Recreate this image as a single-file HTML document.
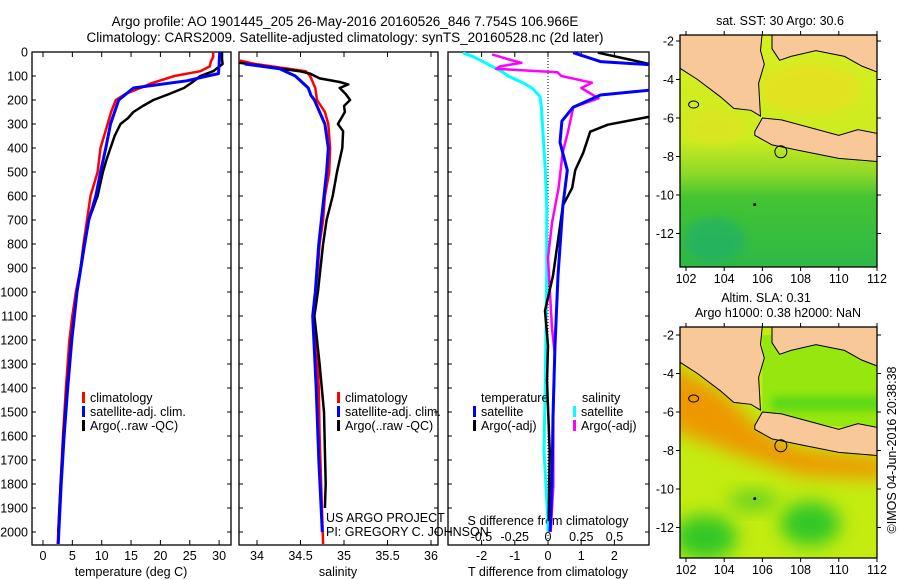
<!DOCTYPE html>
<html><head><meta charset="utf-8"><style>
body{margin:0;background:#fff;}
svg{display:block;font-family:"Liberation Sans",sans-serif;}
text{fill:#000;}
</style></head><body>
<svg id="c" width="900" height="580" viewBox="0 0 900 580">
<defs>
<clipPath id="cp1"><rect x="32" y="52" width="199" height="493"/></clipPath>
<clipPath id="cp2"><rect x="239" y="52" width="199" height="493"/></clipPath>
<clipPath id="cp3"><rect x="448" y="52" width="201" height="493"/></clipPath>
<clipPath id="cm1"><rect x="680" y="35" width="197" height="232"/></clipPath>
<clipPath id="cm2"><rect x="680" y="327" width="197" height="231"/></clipPath>
<filter id="bl" x="-50%" y="-50%" width="200%" height="200%"><feGaussianBlur stdDeviation="9"/></filter>
<filter id="bl2" x="-50%" y="-50%" width="200%" height="200%"><feGaussianBlur stdDeviation="4"/></filter>
<linearGradient id="sstg" x1="0" y1="0" x2="0" y2="1">
<stop offset="0" stop-color="#d6ee22"/><stop offset="0.45" stop-color="#cdec20"/><stop offset="0.6" stop-color="#8cd828"/><stop offset="0.7" stop-color="#44c432"/><stop offset="1" stop-color="#2eb848"/></linearGradient>
</defs>
<text x="345" y="26" font-size="13.5" text-anchor="middle">Argo profile: AO 1901445_205 26-May-2016 20160526_846 7.754S 106.966E</text>
<text x="345" y="42" font-size="13.5" text-anchor="middle">Climatology: CARS2009. Satellite-adjusted climatology: synTS_20160528.nc (2d later)</text>
<g id="g"></g>
</svg>
<script>
// ---- data ----
const depthTicks=[0,100,200,300,400,500,600,700,800,900,1000,1100,1200,1300,1400,1500,1600,1700,1800,1900,2000];
const tempTicks=[0,5,10,15,20,25,30];
const salTicks=[34,34.5,35,35.5,36];
const salTickLabels=["34","34.5","35","35.5","36"];
const dTTicks=[-2,-1,0,1,2];
const dSTicks=[-0.5,-0.25,0,0.25,0.5];
const dSTickLabels=["-0.5","-0.25","0","0.25","0.5"];
const tempClimDepth=[0,20,40,60,80,100,130,150,175,200,250,300,400,500,600,700,800,900,1000,1100,1200,1400,1600,1800,2000,2050];
const tempClim=[29.0,29.0,28.6,28.4,26.8,22.4,18.5,16.6,14.0,12.4,11.6,11.0,9.8,9.3,8.1,7.5,6.9,6.4,5.6,5.0,4.5,3.9,3.4,3.0,2.6,2.5];
const tempSatDepth=[0,50,90,100,120,150,200,300,400,500,600,700,800,1000,1200,1400,1600,1800,2000,2050];
const tempSat=[30.1,30.0,29.9,28.0,24.5,15.4,12.9,11.5,10.7,9.8,9.0,7.8,7.1,5.8,4.9,4.2,3.6,3.1,2.7,2.6];
const tempArgoDepth=[0,30,50,80,100,125,150,175,200,225,250,275,300,350,400,450,500,600,700,800,1000,1200,1400,1600,1800,2000];
const tempArgo=[30.5,30.5,30.6,29.0,26.8,25.5,24.0,21.5,18.8,17.0,15.4,14.5,13.2,12.2,11.5,10.8,10.2,9.3,7.8,7.0,5.8,4.8,4.1,3.5,3.0,2.6];
const salClimDepth=[35,50,80,100,150,200,250,300,400,500,600,700,800,900,1000,1100,1200,1400,1600,2050];
const salClim=[33.79,33.98,34.56,34.61,34.67,34.69,34.78,34.82,34.84,34.83,34.78,34.76,34.72,34.70,34.67,34.64,34.68,34.71,34.72,34.76];
const salSatDepth=[50,70,100,150,180,200,250,300,400,500,600,700,800,1000,1100,1400,1700,2000];
const salSat=[33.86,34.26,34.44,34.59,34.62,34.66,34.72,34.78,34.82,34.80,34.77,34.74,34.71,34.67,34.64,34.68,34.71,34.75];
const salArgoDepth=[45,80,90,110,125,135,150,175,200,225,250,300,330,400,500,600,700,800,1000,1100,1300,1500,1800,1900];
const salArgo=[33.80,34.49,34.61,34.72,34.95,35.05,34.95,35.02,35.07,35.0,35.01,34.93,34.99,34.98,34.92,34.87,34.80,34.76,34.70,34.66,34.72,34.77,34.79,34.78];
const dSSatDepth=[3,20,40,60,84,100,128,150,186,230,493,639,932,1370,1663,1955,1999];
const dSSat=[-0.64,-0.56,-0.49,-0.42,-0.34,-0.30,-0.19,-0.12,-0.06,-0.05,-0.02,-0.01,-0.01,-0.02,-0.03,0,0];
const dSArgoDepth=[10,30,45,60,70,84,100,128,150,193,230,332,420,566,712,858,1151,1253,1516,1809,1999];
const dSArgo=[-0.42,-0.30,-0.20,-0.36,-0.39,0.07,0.10,0.33,0.25,0.38,0.19,0.15,0.11,0.08,0.03,0,0.03,0.05,0.04,0.04,0.02];
const dTSatDepth=[3,40,54,157,179,230,288,376,493,639,932,1224,1516,1809,1999];
const dTSat=[0.76,1.58,3.2,3.2,1.58,0.76,0.42,0.36,0.58,0.45,0.30,0.21,0.15,0.12,0.06];
const dTArgoDepth=[3,33,54,266,303,332,420,493,566,639,785,932,1078,1224,1370,1663,1955];
const dTArgo=[1.5,2.5,3.2,3.2,1.8,1.27,1.06,0.82,0.73,0.45,0.30,0.15,-0.09,0,-0.03,0.05,0.02];
const lonTicks=[102,104,106,108,110,112];
const latTicks=[-2,-4,-6,-8,-10,-12];
const argoLon=106.966, argoLat=-7.754;

// ---- scales ----
const yD=d=>52+d*0.24;
const xT=t=>43+t*5.87;
const xS=s=>257+(s-34)*87;
const xDT=t=>548+t*33.2;
const xDS=s=>548+s*133;
const NS='http://www.w3.org/2000/svg';
const G=document.getElementById('g');
function mk(tag,attrs,parent){const e=document.createElementNS(NS,tag);for(const k in attrs)e.setAttribute(k,attrs[k]);(parent||G).appendChild(e);return e;}
function txt(x,y,s,size,anchor,parent){const e=mk('text',{x:x,y:y,'font-size':size,'text-anchor':anchor||'start'},parent);e.textContent=s;return e;}
function line(xs,ys,color,w,clip,name){
  const p=xs.map((v,i)=>v.toFixed(1)+','+ys[i].toFixed(1)).join(' ');
  const e=mk('polyline',{points:p,fill:'none',stroke:color,'stroke-width':w,'clip-path':'url(#'+clip+')','stroke-linejoin':'round'});
  
  
}
function frame(x,w,name){const e=mk('rect',{x:x,y:52,width:w,height:493,fill:'none',stroke:'#000','stroke-width':1.3});
  
  }

frame(32,199,'temperature-panel');frame(239,199,'salinity-panel');frame(448,201,'difference-panel');
depthTicks.forEach(d=>{const y=yD(d);
  txt(28,y+4.5,String(d),12.5,'end');
  [[32,36],[227,231],[239,243],[434,438],[448,452],[645,649]].forEach(a=>mk('line',{x1:a[0],x2:a[1],y1:y,y2:y,stroke:'#000'}));
});
tempTicks.forEach(t=>{const x=xT(t);mk('line',{x1:x,x2:x,y1:52,y2:57,stroke:'#000'});mk('line',{x1:x,x2:x,y1:540,y2:545,stroke:'#000'});
  txt(x,560,String(t),12.5,'middle');});
salTicks.forEach((s,i)=>{const x=xS(s);mk('line',{x1:x,x2:x,y1:52,y2:57,stroke:'#000'});mk('line',{x1:x,x2:x,y1:540,y2:545,stroke:'#000'});
  txt(x,560,salTickLabels[i],12.5,'middle');});
dTTicks.forEach(t=>{const x=xDT(t);mk('line',{x1:x,x2:x,y1:52,y2:57,stroke:'#000'});mk('line',{x1:x,x2:x,y1:540,y2:545,stroke:'#000'});
  txt(x,560,String(t),12.5,'middle');});
dSTicks.forEach((s,i)=>{txt(xDS(s),541,dSTickLabels[i],12.5,'middle');});
mk('line',{x1:xDT(0),x2:xDT(0),y1:52,y2:545,stroke:'#000','stroke-dasharray':'1,2'});
txt(131,576,'temperature (deg C)',12.5,'middle');
txt(338,576,'salinity',12.5,'middle');
txt(548,576,'T difference from climatology',12.5,'middle');
txt(548,525,'S difference from climatology',12.5,'middle');

line(tempClim.map(xT),tempClimDepth.map(yD),'#f00',2.5,'cp1','temp-climatology-line');
line(tempArgo.map(xT),tempArgoDepth.map(yD),'#000',2.5,'cp1','temp-argo-line');
line(tempSat.map(xT),tempSatDepth.map(yD),'#00f',3,'cp1','temp-satellite-line');
line(salClim.map(xS),salClimDepth.map(yD),'#f00',2.5,'cp2','sal-climatology-line');
line(salArgo.map(xS),salArgoDepth.map(yD),'#000',2.5,'cp2','sal-argo-line');
line(salSat.map(xS),salSatDepth.map(yD),'#00f',3,'cp2','sal-satellite-line');
line(dSSat.map(xDS),dSSatDepth.map(yD),'#0ff',3,'cp3','dS-satellite-line');
line(dSArgo.map(xDS),dSArgoDepth.map(yD),'#f0f',2.5,'cp3','dS-argo-line');
line(dTArgo.map(xDT),dTArgoDepth.map(yD),'#000',2.5,'cp3','dT-argo-line');
line(dTSat.map(xDT),dTSatDepth.map(yD),'#00f',3,'cp3','dT-satellite-line');

txt(326,522,'US ARGO PROJECT',12.5);
txt(326,536,'PI: GREGORY C. JOHNSON',12.5);

function leg(x,y,color,label){const g=mk('g',{});
  mk('rect',{x:x,y:y-10,width:3,height:11,fill:color},g);txt(x+8,y,label,12.5,'start',g);}
leg(82,402,'#f00','climatology');leg(82,416,'#00f','satellite-adj. clim.');leg(82,430,'#000','Argo(..raw -QC)');
leg(337,402,'#f00','climatology');leg(337,416,'#00f','satellite-adj. clim.');leg(337,430,'#000','Argo(..raw -QC)');
txt(481,402,'temperature',12.5);txt(582,402,'salinity',12.5);
leg(473,416,'#00f','satellite');leg(473,430,'#000','Argo(-adj)');
leg(573,416,'#0ff','satellite');leg(573,430,'#f0f','Argo(-adj)');

// ---- maps ----
function mapPanel(top,bottom,lat2y,clip,isSST){
  const X=lon=>686+(lon-102)*19.1;
  const Y=lat=>lat2y+(-2-lat)*19.25;
  const g=mk('g',{'clip-path':'url(#'+clip+')'});
  
  const P=pts=>pts.map(p=>X(p[0]).toFixed(1)+','+Y(p[1]).toFixed(1)).join(' ');
  if(isSST){
    mk('rect',{x:680,y:top,width:197,height:bottom-top,fill:'url(#sstg)'},g);
    mk('ellipse',{cx:X(108.5),cy:Y(-4.5),rx:50,ry:25,fill:'#eedc20',opacity:0.6,filter:'url(#bl2)'},g);
    mk('ellipse',{cx:X(103.5),cy:Y(-6.5),rx:30,ry:18,fill:'#e4e020',opacity:0.5,filter:'url(#bl2)'},g);
    mk('ellipse',{cx:X(103.5),cy:Y(-12.3),rx:30,ry:22,fill:'#1fae70',opacity:0.6,filter:'url(#bl2)'},g);
  } else {
    mk('rect',{x:680,y:top,width:197,height:bottom-top,fill:'#c4ec10'},g);
    mk('polygon',{points:P([[101,-3.4],[104,-5],[106,-7],[108,-7.9],[112.5,-8.4],[112.5,-9.5],[108,-9.3],[105,-8.3],[102.5,-7.4],[101,-6.8]]),fill:'#ee9800',filter:'url(#bl)'},g);
    mk('polygon',{points:P([[106,-2],[112.5,-2],[112.5,-6.9],[106,-6.5]]),fill:'#96e610'},g);
    mk('rect',{x:X(106.5),y:Y(-5.2),width:X(112.5)-X(106.5),height:14,fill:'#5cd814',filter:'url(#bl2)'},g);
    mk('ellipse',{cx:X(103),cy:Y(-12.5),rx:32,ry:22,fill:'#30c828',filter:'url(#bl)'},g);
    mk('ellipse',{cx:X(108.5),cy:Y(-11.8),rx:30,ry:22,fill:'#30c828',filter:'url(#bl)'},g);
    mk('ellipse',{cx:X(105.5),cy:Y(-10.6),rx:25,ry:10,fill:'#60d020',filter:'url(#bl)'},g);
  }
  const land={fill:'#f8c898',stroke:'#000','stroke-width':1};
  mk('polygon',Object.assign({points:P([[101.5,-1.5],[106.0,-1.5],[105.9,-2.5],[106.1,-3.2],[105.8,-4.2],[105.9,-5.9],[105.4,-5.6],[104.5,-5.5],[103.8,-4.9],[102.6,-4.0],[101.5,-3.3]])},land),g);
  mk('polygon',Object.assign({points:P([[106.5,-1.5],[112.5,-1.5],[112.5,-3.8],[111.2,-3.3],[110.3,-2.8],[108.8,-2.5],[107.5,-2.8],[106.9,-3.0],[106.5,-2.4]])},land),g);
  mk('polygon',Object.assign({points:P([[105.6,-6.7],[106.0,-6.0],[107.0,-6.1],[108.5,-6.5],[110.0,-6.9],[111.0,-6.6],[112.5,-6.9],[112.5,-8.3],[110.0,-8.1],[108.0,-7.7],[106.5,-7.4],[105.6,-6.9]])},land),g);
  mk('circle',{cx:X(argoLon),cy:Y(argoLat),r:6,fill:'none',stroke:'#000'},g);
  mk('circle',{cx:X(105.6),cy:Y(-10.5),r:1.5,fill:'#000'},g);
  mk('ellipse',{cx:X(102.4),cy:Y(-5.3),rx:5,ry:3.5,fill:'none',stroke:'#000'},g);
  const fr=mk('rect',{x:680,y:top,width:197,height:bottom-top,fill:'none',stroke:'#000','stroke-width':1.3});
  
  
  latTicks.forEach(l=>{const y=Y(l);mk('line',{x1:676,x2:680,y1:y,y2:y,stroke:'#000'});mk('line',{x1:877,x2:881,y1:y,y2:y,stroke:'#000'});
    txt(674,y+4.5,String(l),12.5,'end');});
  lonTicks.forEach(l=>{const x=X(l);mk('line',{x1:x,x2:x,y1:bottom,y2:bottom+4,stroke:'#000'});mk('line',{x1:x,x2:x,y1:top-4,y2:top,stroke:'#000'});
    txt(x,bottom+16,String(l),12.5,'middle');});
}
mapPanel(35,267,41,'cm1',true);
mapPanel(327,558,335,'cm2',false);
txt(780,25,'sat. SST: 30 Argo: 30.6',12.5,'middle');
txt(766,302,'Altim. SLA: 0.31',12.5,'middle');
txt(778,317,'Argo h1000: 0.38 h2000: NaN',12.5,'middle');
const cr=txt(0,0,'©IMOS 04-Jun-2016 20:38:38',12.5,'middle');
cr.setAttribute('transform','translate(896,450) rotate(-90)');

</script>
</body></html>
